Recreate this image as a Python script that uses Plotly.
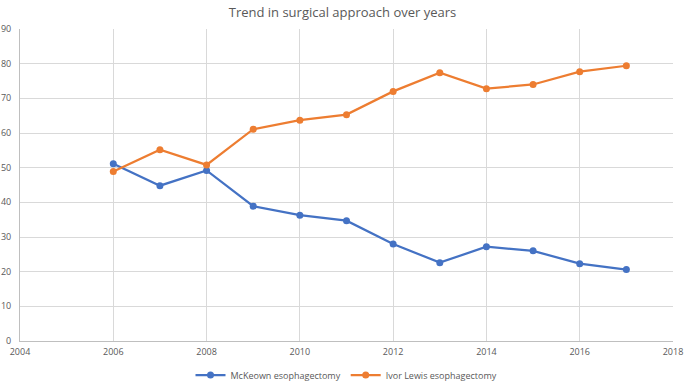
import plotly.graph_objects as go

years = [2006, 2007, 2008, 2009, 2010, 2011, 2012, 2013, 2014, 2015, 2016, 2017]
mckeown = [51.1, 44.8, 49.2, 38.9, 36.3, 34.7, 28.0, 22.6, 27.2, 26.0, 22.3, 20.6]
ivor_lewis = [48.9, 55.2, 50.8, 61.1, 63.7, 65.3, 72.0, 77.4, 72.8, 74.0, 77.7, 79.4]

font_family = "Open Sans, Liberation Sans, sans-serif"
grid_col = "#d9d9d9"
text_col = "#595959"

fig = go.Figure()
fig.add_trace(go.Scatter(x=years, y=mckeown, mode="lines+markers", name="McKeown esophagectomy",
                         line=dict(color="#4472C4", width=2.25),
                         marker=dict(color="#4472C4", size=7)))
fig.add_trace(go.Scatter(x=years, y=ivor_lewis, mode="lines+markers", name="Ivor Lewis esophagectomy",
                         line=dict(color="#ED7D31", width=2.25),
                         marker=dict(color="#ED7D31", size=7)))

fig.update_layout(
    width=685, height=382,
    paper_bgcolor="white", plot_bgcolor="white",
    margin=dict(l=20, r=12, t=29, b=41, autoexpand=False),
    title=dict(text="Trend in surgical approach over years", x=0.5, xanchor="center",
               yref="container", y=0.968, yanchor="middle",
               font=dict(family=font_family, size=13, color=text_col)),
    font=dict(family=font_family, size=10, color=text_col),
    showlegend=True,
    legend=dict(orientation="h", x=0.5, xanchor="center", yref="container", y=0.018, yanchor="middle",
                font=dict(size=9, color=text_col), bgcolor="rgba(0,0,0,0)",
                itemwidth=30, tracegroupgap=0),
    xaxis=dict(range=[2004, 2018], dtick=2, tick0=2004, showgrid=True, gridcolor=grid_col,
               gridwidth=1, zeroline=False, showline=True, linecolor="#bfbfbf", linewidth=1,
               ticks="", tickfont=dict(size=9, color=text_col), automargin=False,
               ticklabelstandoff=2),
    yaxis=dict(range=[0, 90], dtick=10, showgrid=True, gridcolor=grid_col, gridwidth=1,
               zeroline=False, showline=True, linecolor="#bfbfbf", linewidth=1,
               ticks="", tickfont=dict(size=9, color=text_col), automargin=False,
               ticklabelstandoff=6),
)

fig.write_html("out.html", config={"displayModeBar": False},
               post_script="document.body.style.margin='0';")
